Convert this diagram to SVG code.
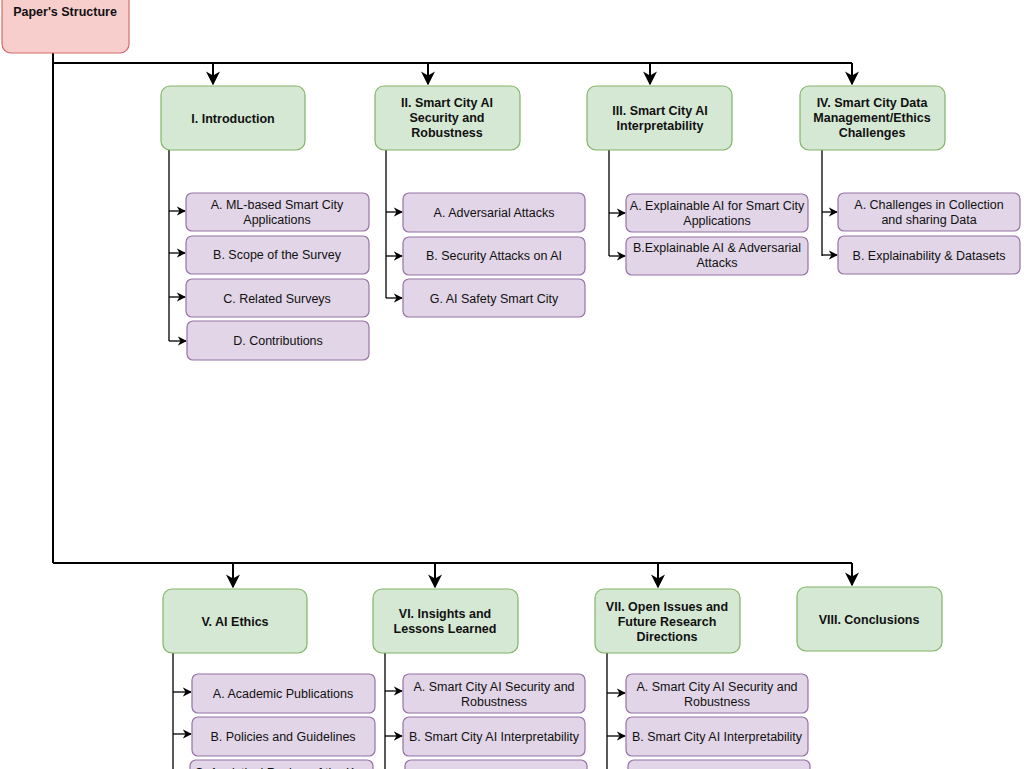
<svg xmlns="http://www.w3.org/2000/svg" width="1024" height="769" viewBox="0 0 1024 769">
<defs>
<marker id="a" viewBox="0 0 10 10" refX="9" refY="5" markerWidth="7" markerHeight="7" orient="auto"><path d="M0,0 L10,5 L0,10 L3,5 Z" fill="#000"/></marker>
<style>
text{font-family:"Liberation Sans",Arial,sans-serif;font-size:12.5px;text-anchor:middle;fill:#111}
.r rect{fill:#f8cecc;stroke:#d46a6a;stroke-width:1.2}
.g rect{fill:#d5e8d4;stroke:#82b366;stroke-width:1.2}
.g text,.r text{font-weight:bold}
.p rect{fill:#e1d5e7;stroke:#9673a6;stroke-width:1.2}
.c path{fill:none;stroke:#000;stroke-width:2}
.c path.s{stroke-width:1.3}
.m path{marker-end:url(#a)}
</style>
</defs>
<rect width="1024" height="769" fill="#fff"/>
<g class="c">
<path d="M53,53 V563 M53,63 H852"/>
<path d="M53,563 H852"/>
<path class="s" d="M169,150 V341 M386,150 V298 M609,150 V256 M822,150 V256 M173,653 V769 M385,653 V769 M607,653 V769"/>
<g class="m">
<path d="M213,63 V84"/><path d="M428,63 V84"/><path d="M650,63 V84"/><path d="M852,63 V84"/>
<path d="M233,563 V587"/><path d="M435,563 V587"/><path d="M658,563 V587"/><path d="M852,563 V585"/>
<path class="s" d="M169,211 H185"/><path class="s" d="M169,253 H185"/><path class="s" d="M169,297 H185"/><path class="s" d="M169,341 H186"/>
<path class="s" d="M386,212 H402"/><path class="s" d="M386,256 H402"/><path class="s" d="M386,298 H402"/>
<path class="s" d="M609,213 H625"/><path class="s" d="M609,256 H625"/>
<path class="s" d="M822,212 H837"/><path class="s" d="M822,255 H837"/>
<path class="s" d="M173,692 H191"/><path class="s" d="M173,734 H191"/>
<path class="s" d="M385,691 H402"/><path class="s" d="M385,736 H402"/>
<path class="s" d="M607,693 H625"/><path class="s" d="M607,736 H625"/>
</g>
</g>
<g id="root" class="r"><rect x="2" y="-10" width="127" height="63" rx="9"/><text x="65" y="16">Paper's Structure</text></g>
<g id="n1" class="g"><rect x="161" y="86" width="144" height="64" rx="9"/><text x="233" y="123">I. Introduction</text></g>
<g id="n2" class="g"><rect x="375" y="86" width="145" height="64" rx="9"/><text x="447" y="107">II. Smart City AI</text><text x="447" y="122">Security and</text><text x="447" y="137">Robustness</text></g>
<g id="n3" class="g"><rect x="587" y="86" width="145" height="64" rx="9"/><text x="660" y="115">III. Smart City AI</text><text x="660" y="130">Interpretability</text></g>
<g id="n4" class="g"><rect x="800" y="86" width="145" height="64" rx="9"/><text x="872" y="107">IV. Smart City Data</text><text x="872" y="122">Management/Ethics</text><text x="872" y="137">Challenges</text></g>
<g id="n5" class="g"><rect x="163" y="589" width="144" height="64" rx="9"/><text x="235" y="626">V. AI Ethics</text></g>
<g id="n6" class="g"><rect x="373" y="589" width="145" height="64" rx="9"/><text x="445" y="618">VI. Insights and</text><text x="445" y="633">Lessons Learned</text></g>
<g id="n7" class="g"><rect x="595" y="589" width="145" height="64" rx="9"/><text x="667" y="611">VII. Open Issues and</text><text x="667" y="626">Future Research</text><text x="667" y="641">Directions</text></g>
<g id="n8" class="g"><rect x="797" y="587" width="145" height="64" rx="9"/><text x="869" y="624">VIII. Conclusions</text></g>
<g id="i1a" class="p"><rect x="186" y="193" width="183" height="38" rx="6"/><text x="277" y="209">A. ML-based Smart City</text><text x="277" y="224">Applications</text></g>
<g id="i1b" class="p"><rect x="186" y="236" width="183" height="38" rx="6"/><text x="277" y="259">B. Scope of the Survey</text></g>
<g id="i1c" class="p"><rect x="186" y="279" width="183" height="38" rx="6"/><text x="277" y="303">C. Related Surveys</text></g>
<g id="i1d" class="p"><rect x="187" y="321" width="182" height="39" rx="6"/><text x="278" y="345">D. Contributions</text></g>
<g id="i2a" class="p"><rect x="403" y="193" width="182" height="39" rx="6"/><text x="494" y="217">A. Adversarial Attacks</text></g>
<g id="i2b" class="p"><rect x="403" y="237" width="182" height="38" rx="6"/><text x="494" y="260">B. Security Attacks on AI</text></g>
<g id="i2c" class="p"><rect x="403" y="279" width="182" height="38" rx="6"/><text x="494" y="303">G. AI Safety Smart City</text></g>
<g id="i3a" class="p"><rect x="626" y="194" width="182" height="38" rx="6"/><text x="717" y="210">A. Explainable AI for Smart City</text><text x="717" y="225">Applications</text></g>
<g id="i3b" class="p"><rect x="626" y="237" width="182" height="38" rx="6"/><text x="717" y="252">B.Explainable AI &amp; Adversarial</text><text x="717" y="267">Attacks</text></g>
<g id="i4a" class="p"><rect x="838" y="193" width="182" height="38" rx="6"/><text x="929" y="209">A.  Challenges in Collection</text><text x="929" y="224">and sharing Data</text></g>
<g id="i4b" class="p"><rect x="838" y="236" width="182" height="38" rx="6"/><text x="929" y="260">B. Explainability &amp; Datasets</text></g>
<g id="i5a" class="p"><rect x="192" y="674" width="183" height="39" rx="6"/><text x="283" y="698">A.  Academic Publications</text></g>
<g id="i5b" class="p"><rect x="192" y="717" width="183" height="39" rx="6"/><text x="283" y="741">B. Policies and Guidelines</text></g>
<g id="i5c" class="p"><rect x="190" y="760" width="183" height="39" rx="6"/><text x="281" y="777">C. Analytical Review of the Key</text></g>
<g id="i6a" class="p"><rect x="403" y="674" width="182" height="39" rx="6"/><text x="494" y="691">A. Smart City AI Security and</text><text x="494" y="706">Robustness</text></g>
<g id="i6b" class="p"><rect x="403" y="717" width="182" height="39" rx="6"/><text x="494" y="741">B. Smart City AI Interpretability</text></g>
<g id="i6c" class="p"><rect x="405" y="760" width="182" height="39" rx="6"/></g>
<g id="i7a" class="p"><rect x="626" y="674" width="182" height="39" rx="6"/><text x="717" y="691">A. Smart City AI Security and</text><text x="717" y="706">Robustness</text></g>
<g id="i7b" class="p"><rect x="626" y="717" width="182" height="39" rx="6"/><text x="717" y="741">B. Smart City AI Interpretability</text></g>
<g id="i7c" class="p"><rect x="628" y="760" width="182" height="39" rx="6"/></g>
</svg>
